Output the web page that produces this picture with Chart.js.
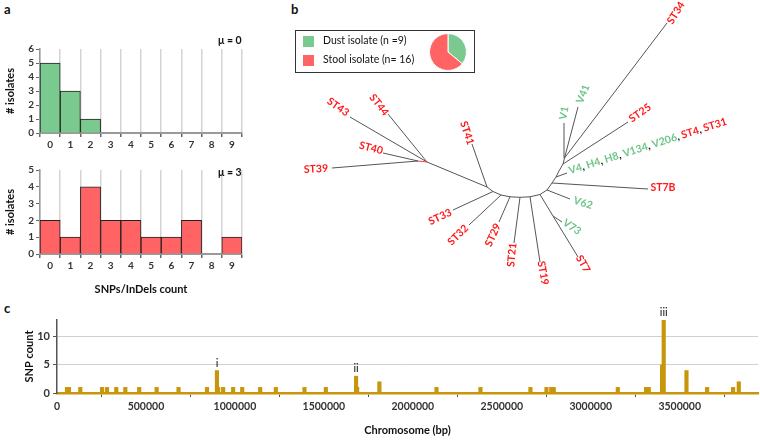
<!DOCTYPE html>
<html>
<head>
<meta charset="utf-8">
<script src="https://cdn.jsdelivr.net/npm/chart.js@4.4.1/dist/chart.umd.min.js"></script>
<style>
  body { margin: 0; background: #fff; font-family: Lato, 'Open Sans', sans-serif; }
  #wrap { position: relative; width: 760px; height: 441px; overflow: hidden; }
  canvas, .abs { position: absolute; }
  .panel { font-weight: bold; font-size: 13px; color: #111; }
  .mu { font-weight: bold; font-size: 10.5px; color: #111; }
  #legend { left: 295px; top: 30px; width: 180px; height: 43px; border: 1px solid #333; box-sizing: border-box; }
  .sw { width: 11px; height: 11px; left: 7px; }
  .lt { left: 27px; font-size: 10.5px; color: #111; white-space: nowrap; }
</style>
</head>
<body>
<div id="wrap">
  <div class="abs panel" style="left:4px;top:1px;">a</div>
  <div class="abs panel" style="left:291px;top:1px;">b</div>
  <div class="abs panel" style="left:4px;top:300px;">c</div>

  <canvas id="histDust" width="250" height="160" style="left:0;top:0;"></canvas>
  <canvas id="histStool" width="250" height="140" style="left:0;top:160px;"></canvas>
  <div class="abs mu" style="left:218px;top:34px;">μ = 0</div>
  <div class="abs mu" style="left:218px;top:166px;">μ = 3</div>

  <canvas id="tree" width="475" height="292" style="left:285px;top:0;"></canvas>
  <div id="legend" class="abs">
    <div class="abs sw" style="top:5px;background:#7ac98f;"></div>
    <div class="abs lt" style="top:3px;">Dust isolate (n =9)</div>
    <div class="abs sw" style="top:24px;background:#ff6363;"></div>
    <div class="abs lt" style="top:22px;">Stool isolate (n= 16)</div>
  </div>
  <canvas id="pie" width="40" height="40" style="left:428px;top:32px;"></canvas>

  <canvas id="snps" width="760" height="141" style="left:0;top:300px;"></canvas>
</div>

<script>
// panel a - histograms
const countBins = ['0', '1', '2', '3', '4', '5', '6', '7', '8', '9'];
const dustIsolates = [5, 3, 1, 0, 0, 0, 0, 0, 0, 0];
const stoolIsolates = [2, 1, 4, 2, 2, 1, 1, 2, 0, 1];

// panel b - legend pie
const pieLabels = ['Dust isolate', 'Stool isolate'];
const pieCounts = [9, 16];

// panel c - SNP positions along the chromosome
const snpPos = [56000, 67000, 131000, 253000, 281000, 333000, 384000, 462000, 560000, 683000,
  843000, 899000, 906000, 934000, 990000, 1041000, 1142000, 1230000, 1391000, 1511000,
  1681000, 1687000, 1812000, 2133000, 2380000, 2661000, 2751000, 2778000, 2792000, 3152000,
  3311000, 3326000, 3401000, 3410000, 3538000, 3654000, 3800000, 3832000];
const snpCount = [1, 1, 1, 1, 1, 1, 1, 1, 1, 1,
  1, 4, 1, 1, 1, 1, 1, 1, 1, 1,
  3, 1, 2, 1, 1, 1, 1, 1, 1, 1,
  1, 1, 5, 13, 4, 1, 1, 2];
const chromTicks = [0, 500000, 1000000, 1500000, 2000000, 2500000, 3000000, 3500000];
const peakLabels = ['i', 'ii', 'iii'];
const peakPos = [899000, 1681000, 3410000];
const peakVal = [4, 3, 13];

// panel b - tree: leaves (members) and layout of the unrooted tree
const leafMembers = [['ST43'], ['ST44'], ['ST40'], ['ST39'], ['ST41'], ['ST33'], ['ST32'], ['ST29'],
  ['ST21'], ['ST19'], ['ST7'], ['V73'], ['V62'], ['ST7B'],
  ['V4', 'H4', 'H8', 'V134', 'V206', 'ST4', 'ST31'], ['ST25'], ['ST34'], ['V41'], ['V1']];
const treeNodes = {
  a: [418, 161], b: [427, 162], c: [487, 187], d: [493, 191.5], e: [501, 195],
  f: [510, 196.8], g: [520, 197.3], h: [530, 196.8], i: [540, 194.5], j: [547, 190],
  k: [552, 183], l: [556, 177], m: [559, 171], n: [563, 164], o: [564.5, 158], p: [553, 216],
  ST43: [350, 117], ST44: [388, 114], ST40: [383, 153], ST39: [332, 168], ST41: [472, 144],
  ST33: [453, 210], ST32: [469, 225], ST29: [499, 222], ST21: [514, 243], ST19: [540, 262],
  ST7: [578, 257], V73: [562, 222], V62: [570, 199], ST7B: [648, 189], V4: [567, 173],
  ST25: [628, 122], ST34: [667, 23], V41: [578, 107], V1: [564, 123]
};
const treeEdges = [['a', 'b'], ['b', 'c'], ['c', 'd'], ['d', 'e'], ['e', 'f'], ['f', 'g'], ['g', 'h'],
  ['h', 'i'], ['i', 'j'], ['j', 'k'], ['k', 'l'], ['l', 'm'], ['m', 'n'], ['n', 'o'],
  ['b', 'ST43'], ['b', 'ST44'], ['a', 'ST40'], ['a', 'ST39'], ['c', 'ST41'], ['d', 'ST33'],
  ['e', 'ST32'], ['f', 'ST29'], ['g', 'ST21'], ['h', 'ST19'], ['i', 'p'], ['p', 'ST7'], ['p', 'V73'],
  ['j', 'V62'], ['k', 'ST7B'], ['l', 'V4'], ['n', 'ST25'], ['o', 'ST34'], ['o', 'V41'], ['o', 'V1']];
// label anchor [x, y, angle in degrees]
const labelLayout = [[338, 107, 35], [379, 105, 52], [371, 148, 15], [316, 169, -3], [467, 133, 72],
  [440, 217, -25], [458, 235, -45], [493, 235, -65], [512, 255, -85], [543, 273, 80],
  [583, 264, 60], [572, 227, 35], [583, 203, 18], [663, 188, 0], [569, 171, -17.5],
  [640, 113, -35], [676, 13, -58], [583, 94, -68], [564, 113, -80]];

const GREEN = '#7ac98f';
const RED = '#ff6363';
const GOLD = '#c8960a';
const tickFont = { family: 'Lato', size: 10, weight: 'bold' };
const titleFont = { family: 'Lato', size: 11, weight: 'bold' };

function isDust(name) {
  return name[0] === 'V' || name[0] === 'H';
}

// histogram of SNP/InDel counts
function makeHist(id, values, color, yMax, padTop, xHeight, showTitle) {
  new Chart(document.getElementById(id), {
    type: 'bar',
    data: {
      labels: countBins,
      datasets: [{
        data: values, backgroundColor: color, borderColor: '#222', borderWidth: 1,
        categoryPercentage: 1, barPercentage: 1
      }]
    },
    options: {
      responsive: false, animation: false, events: [],
      layout: { padding: { top: padTop, right: 8, left: 0, bottom: 0 } },
      plugins: { legend: { display: false }, tooltip: { enabled: false } },
      scales: {
        x: {
          grid: { color: '#d4d4d4', lineWidth: 1.5, tickColor: '#666', tickLength: 4 },
          border: { color: '#999', width: 2 },
          ticks: { font: tickFont, color: '#333', padding: 2 },
          title: { display: showTitle, text: 'SNPs/InDels count', font: titleFont, color: '#111' },
          afterFit: s => { s.height = xHeight; }
        },
        y: {
          min: 0, max: yMax,
          ticks: { stepSize: 1, autoSkip: false, font: tickFont, color: '#333', padding: 2 },
          grid: { drawOnChartArea: false, tickLength: 4, color: '#666' },
          border: { color: '#999', width: 1.5 },
          title: { display: true, text: '# isolates', font: titleFont, color: '#111' },
          afterFit: s => { s.width = 40; }
        }
      }
    }
  });
}

// tree labels, drawn rotated next to the leaf tips
const treeLabelPlugin = {
  id: 'treeLabels',
  afterDatasetsDraw(chart) {
    const { ctx, scales: { x, y } } = chart;
    ctx.save();
    ctx.font = 'bold 10.5px Lato';
    ctx.textBaseline = 'middle';
    leafMembers.forEach((members, i) => {
      const [lx, ly, ang] = labelLayout[i];
      ctx.save();
      ctx.translate(x.getPixelForValue(lx), y.getPixelForValue(ly));
      ctx.rotate(ang * Math.PI / 180);
      if (members.length === 1) {
        ctx.textAlign = 'center';
        ctx.fillStyle = isDust(members[0]) ? '#6cc487' : '#ff1a1a';
        ctx.fillText(members[0], 0, 0);
      } else {
        ctx.textAlign = 'left';
        let cx = 0;
        members.forEach((m, k) => {
          ctx.fillStyle = isDust(m) ? '#6cc487' : '#ff1a1a';
          ctx.fillText(m, cx, 0);
          cx += ctx.measureText(m).width;
          if (k < members.length - 1) {
            ctx.fillStyle = '#111';
            ctx.fillText(', ', cx, 0);
            cx += ctx.measureText(', ').width;
          }
        });
      }
      ctx.restore();
    });
    ctx.restore();
  }
};

function makeTree() {
  const datasets = treeEdges.map(([from, to]) => ({
    data: [
      { x: treeNodes[from][0], y: treeNodes[from][1] },
      { x: treeNodes[to][0], y: treeNodes[to][1] }
    ],
    showLine: true, pointRadius: 0, borderWidth: 1,
    borderColor: (from === 'a' && to === 'b') ? '#ff3b3b' : '#555'
  }));
  new Chart(document.getElementById('tree'), {
    type: 'scatter',
    data: { datasets },
    options: {
      responsive: false, animation: false, events: [],
      layout: { padding: 0 },
      plugins: { legend: { display: false }, tooltip: { enabled: false } },
      scales: {
        x: { type: 'linear', min: 285, max: 760, display: false },
        y: { type: 'linear', min: 0, max: 292, reverse: true, display: false }
      }
    },
    plugins: [treeLabelPlugin]
  });
}

function makePie() {
  new Chart(document.getElementById('pie'), {
    type: 'pie',
    data: {
      labels: pieLabels,
      datasets: [{ data: pieCounts, backgroundColor: [GREEN, RED], borderColor: '#fff', borderWidth: 1 }]
    },
    options: {
      responsive: false, animation: false, events: [],
      layout: { padding: 1 },
      plugins: { legend: { display: false }, tooltip: { enabled: false } }
    }
  });
}

// i / ii / iii above the peaks
const peakLabelPlugin = {
  id: 'peakLabels',
  afterDatasetsDraw(chart) {
    const { ctx, scales: { x, y } } = chart;
    ctx.save();
    ctx.font = '11px Lato';
    ctx.fillStyle = '#111';
    ctx.textAlign = 'center';
    ctx.textBaseline = 'bottom';
    peakLabels.forEach((t, i) => {
      ctx.fillText(t, x.getPixelForValue(peakPos[i]), y.getPixelForValue(peakVal[i]) - 2);
    });
    ctx.restore();
  }
};

function makeSnps() {
  new Chart(document.getElementById('snps'), {
    type: 'bar',
    data: {
      datasets: [{
        data: snpPos.map((p, i) => ({ x: p, y: snpCount[i] })),
        backgroundColor: GOLD, borderWidth: 0, barThickness: 3.5
      }]
    },
    options: {
      responsive: false, animation: false, events: [],
      layout: { padding: { left: 19, right: 2, top: 20, bottom: 0 } },
      plugins: { legend: { display: false }, tooltip: { enabled: false } },
      scales: {
        x: {
          type: 'linear', min: 0, max: 3940000, offset: false,
          afterBuildTicks: s => { s.ticks = chromTicks.map(v => ({ value: v })); },
          ticks: {
            callback: v => String(v),
            font: { family: 'Lato', size: 10.5, weight: 'bold' }, color: '#333', padding: 3, maxRotation: 0, autoSkip: false
          },
          grid: { drawOnChartArea: false, tickLength: 4, color: '#555' },
          border: { color: GOLD, width: 2.5 },
          title: { display: true, text: 'Chromosome (bp)', font: titleFont, color: '#111' },
          afterFit: s => { s.height = 48; }
        },
        y: {
          min: 0, max: 13,
          afterBuildTicks: s => { s.ticks = s.ticks.filter(t => t.value % 5 === 0); },
          ticks: { stepSize: 5, font: { family: 'Lato', size: 11, weight: 'bold' }, color: '#333', padding: 3 },
          grid: {
            color: c => (c.tick && c.tick.value === 0) ? 'rgba(0,0,0,0)' : '#d0d0d0',
            tickColor: '#555', tickLength: 4
          },
          border: { color: '#555', width: 1.5 },
          title: { display: true, text: 'SNP count', font: titleFont, color: '#111' },
          afterFit: s => { s.width = 38; }
        }
      }
    },
    plugins: [peakLabelPlugin]
  });
}

function init() {
  makeHist('histDust', dustIsolates, GREEN, 6, 49, 27, false);
  makeHist('histStool', stoolIsolates, RED, 5, 10, 46, true);
  makeTree();
  makePie();
  makeSnps();
}

document.addEventListener('DOMContentLoaded', init);
</script>
</body>
</html>
